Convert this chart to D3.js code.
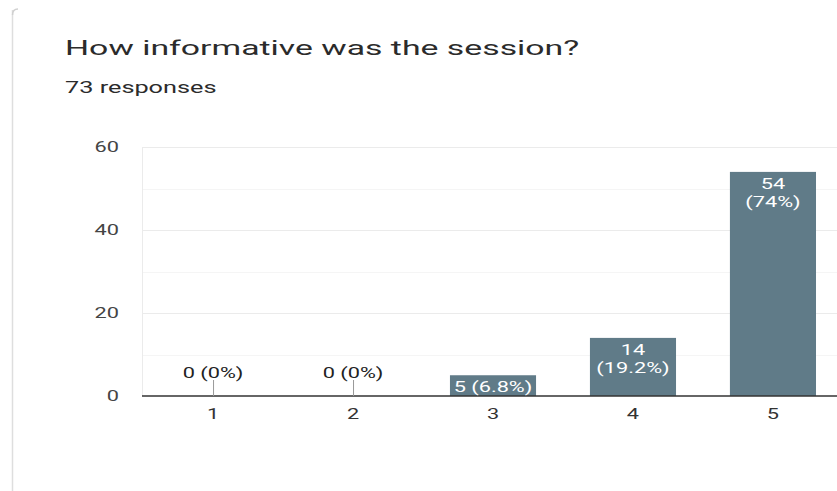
<!DOCTYPE html>
<html><head><meta charset="utf-8">
<script src="https://cdn.jsdelivr.net/npm/d3@7"></script>
<style>body{margin:0;background:#fff;font-family:Roboto,Arial,sans-serif;}</style>
</head><body><svg id="c" width="837" height="491"></svg>
<script>
const categories = ["1","2","3","4","5"];
const counts = [0,0,5,14,54];
const percents = ["0%","0%","6.8%","19.2%","74%"];
const yTicks = [0,20,40,60];
const title = "How informative was the session?";
const subtitle = "73 responses";

const svg = d3.select("#c");
const W = 837, H = 491;
const m = {left:142};
const SX = 1.45; // horizontal stretch of small text
const x = d3.scaleBand().domain(categories).range([m.left, m.left+702]).paddingInner(0.385).paddingOuter(0.2);
const y = d3.scaleLinear().domain([0,60]).range([396,147]);

function stext(g, tx, ty, sx, str){
  return g.append("text").attr("transform",`translate(${tx},${ty}) scale(${sx},1)`).text(str);
}

// card border
svg.append("line").attr("x1",12.5).attr("x2",12.5).attr("y1",10).attr("y2",491).attr("stroke","#dedede").attr("stroke-width",1.5);
svg.append("path").attr("d","M12.5,15 Q12.5,9 18,9").attr("fill","none").attr("stroke","#d0d0d0").attr("stroke-width",1.5);

stext(svg,65,55,1.69,title).attr("font-size",20).attr("fill","#2b2b2b").attr("font-family","Roboto, sans-serif");
stext(svg,65,93,1.58,subtitle).attr("font-size",16).attr("fill","#2b2b2b").attr("font-family","Roboto, sans-serif");

// grid
const minor = d3.range(10,61,20);
svg.append("g").selectAll("line").data(minor).join("line")
  .attr("x1",m.left).attr("x2",W).attr("y1",d=>Math.round(y(d))+0.5).attr("y2",d=>Math.round(y(d))+0.5)
  .attr("stroke","#f5f5f5");
svg.append("g").selectAll("line").data(yTicks.filter(d=>d>0)).join("line")
  .attr("x1",m.left).attr("x2",W).attr("y1",d=>Math.round(y(d))+0.5).attr("y2",d=>Math.round(y(d))+0.5)
  .attr("stroke","#ebebeb");
svg.append("line").attr("x1",m.left+0.5).attr("x2",m.left+0.5).attr("y1",y(60)).attr("y2",y(0)).attr("stroke","#ebebeb");

// y axis labels
const yAxis = d3.axisLeft(y).tickValues(yTicks).tickSize(0).tickPadding(0);
const gy = svg.append("g").attr("transform",`translate(${m.left},0)`).call(yAxis);
gy.select(".domain").remove();
gy.selectAll("text").attr("x",0).attr("transform",`translate(-23,0) scale(${SX},1)`)
  .attr("font-size",15).attr("fill","#444").attr("font-family","Roboto, sans-serif");

// bars
svg.append("g").selectAll("rect").data(categories).join("rect")
  .attr("x",(d)=>x(d)).attr("width",x.bandwidth())
  .attr("y",(d,i)=>y(counts[i])).attr("height",(d,i)=>y(0)-y(counts[i]))
  .attr("fill","#607b88");

// x axis
const xAxis = d3.axisBottom(x).tickSize(0).tickPadding(0);
const gx = svg.append("g").attr("transform",`translate(0,${y(0)})`).call(xAxis);
gx.select(".domain").attr("stroke","#333").attr("stroke-width",1.5).attr("d",`M${m.left},0H${W}`);
gx.selectAll("text").attr("y",0).attr("dy",null).attr("transform",`translate(0,23) scale(${SX},1)`)
  .attr("font-size",15).attr("fill","#333").attr("font-family","Roboto, sans-serif");

// labels
const lab = svg.append("g").attr("font-family","Roboto, sans-serif").attr("font-size",15).attr("text-anchor","middle");
categories.forEach((c,i)=>{
  const cx = x(c)+x.bandwidth()/2;
  const v = counts[i];
  if (v===0){
    lab.append("line").attr("x1",cx+0.5).attr("x2",cx+0.5).attr("y1",y(0)-16).attr("y2",y(0)).attr("stroke","#999");
    stext(lab,cx,y(0)-18,SX,`${v} (${percents[i]})`).attr("fill","#222");
  } else if (y(0)-y(v) < 40){
    stext(lab,cx,y(v)+17,SX,`${v} (${percents[i]})`).attr("fill","#fff");
  } else {
    stext(lab,cx,y(v)+17,SX,`${v}`).attr("fill","#fff");
    stext(lab,cx,y(v)+35,SX,`(${percents[i]})`).attr("fill","#fff");
  }
});
</script></body></html>
